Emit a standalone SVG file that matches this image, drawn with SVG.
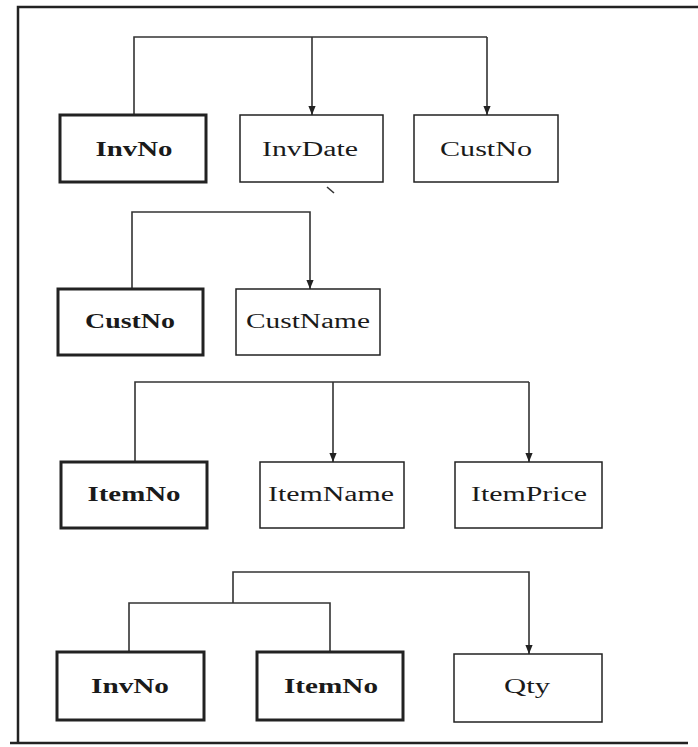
<svg xmlns="http://www.w3.org/2000/svg" width="698" height="747" viewBox="0 0 698 747">
  <defs>
    <marker id="arrow" viewBox="0 0 10 10" refX="10" refY="5" markerWidth="9" markerHeight="9" markerUnits="userSpaceOnUse" orient="auto">
      <path d="M0,1 L10,5 L0,9 Z" fill="#222"/>
    </marker>
    <style>
      .frame { fill: none; stroke: #222; stroke-width: 2.5; }
      .box { fill: #fff; stroke: #222; stroke-width: 1.5; }
      .key { fill: #fff; stroke: #222; stroke-width: 3; }
      .conn { fill: none; stroke: #333; stroke-width: 1.6; }
      .arr { marker-end: url(#arrow); }
      text { font-family: "Liberation Serif", "Times New Roman", serif; font-size: 20px; fill: #1a1a1a; text-anchor: middle; }
      .bold { font-weight: bold; }
    </style>
  </defs>
  <rect width="698" height="747" fill="#fff"/>

  <!-- outer frame -->
  <path class="frame" d="M18,743 L18,7 L698,7"/>
  <path class="frame" d="M10,743 L688,743"/>

  <!-- connectors -->
  <g id="connectors">
    <!-- Invoice -->
    <path class="conn" d="M134,115 L134,37 L487,37"/>
    <path class="conn arr" d="M312,37 L312,115"/>
    <path class="conn arr" d="M487,37 L487,115"/>
    <!-- Customer -->
    <path class="conn arr" d="M132,289 L132,212 L310,212 L310,289"/>
    <!-- Item -->
    <path class="conn" d="M135,462 L135,382 L529,382"/>
    <path class="conn arr" d="M333,382 L333,462"/>
    <path class="conn arr" d="M529,382 L529,462"/>
    <!-- Invoice line -->
    <path class="conn" d="M129,652 L129,603 L330,603 L330,652"/>
    <path class="conn arr" d="M233,603 L233,572 L529,572 L529,654"/>
    <path class="conn" d="M327,187 L334,193"/>
  </g>

  <!-- Invoice -->
  <g id="inv-invno"><rect class="key" x="60" y="115" width="146" height="67"/><text class="bold" x="134" y="156" textLength="77" lengthAdjust="spacingAndGlyphs">InvNo</text></g>
  <g id="inv-invdate"><rect class="box" x="240" y="115" width="143" height="67"/><text x="310" y="156" textLength="96" lengthAdjust="spacingAndGlyphs">InvDate</text></g>
  <g id="inv-custno"><rect class="box" x="414" y="115" width="144" height="67"/><text x="486" y="156" textLength="92" lengthAdjust="spacingAndGlyphs">CustNo</text></g>

  <!-- Customer -->
  <g id="cust-custno"><rect class="key" x="58" y="289" width="145" height="66"/><text class="bold" x="130" y="328" textLength="90" lengthAdjust="spacingAndGlyphs">CustNo</text></g>
  <g id="cust-custname"><rect class="box" x="236" y="289" width="144" height="66"/><text x="308" y="328" textLength="124" lengthAdjust="spacingAndGlyphs">CustName</text></g>

  <!-- Item -->
  <g id="item-itemno"><rect class="key" x="61" y="462" width="146" height="66"/><text class="bold" x="134" y="501" textLength="93" lengthAdjust="spacingAndGlyphs">ItemNo</text></g>
  <g id="item-itemname"><rect class="box" x="260" y="462" width="144" height="66"/><text x="331" y="501" textLength="126" lengthAdjust="spacingAndGlyphs">ItemName</text></g>
  <g id="item-itemprice"><rect class="box" x="455" y="462" width="147" height="66"/><text x="529" y="501" textLength="116" lengthAdjust="spacingAndGlyphs">ItemPrice</text></g>

  <!-- Invoice line -->
  <g id="line-invno"><rect class="key" x="57" y="652" width="147" height="68"/><text class="bold" x="130" y="693" textLength="78" lengthAdjust="spacingAndGlyphs">InvNo</text></g>
  <g id="line-itemno"><rect class="key" x="257" y="652" width="146" height="68"/><text class="bold" x="331" y="693" textLength="94" lengthAdjust="spacingAndGlyphs">ItemNo</text></g>
  <g id="line-qty"><rect class="box" x="454" y="654" width="148" height="68"/><text x="527" y="693" textLength="46" lengthAdjust="spacingAndGlyphs">Qty</text></g>
</svg>
